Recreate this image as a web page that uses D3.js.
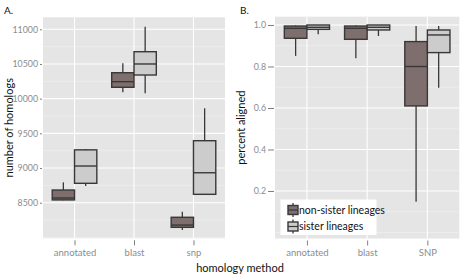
<!DOCTYPE html>
<html>
<head>
<meta charset="utf-8">
<script src="https://cdn.jsdelivr.net/npm/d3@7"></script>
<style>
  body { margin: 0; background: #fff; }
  text { font-family: Lato, "Open Sans", sans-serif; }
</style>
</head>
<body>
<section></section>
<script>
// chart data
// each box is [lower whisker, q1, median, q3, upper whisker]
const methodsA = ['annotated', 'blast', 'snp'];
const methodsB = ['annotated', 'blast', 'SNP'];
const groups = ['non-sister lineages', 'sister lineages'];

const homologsNonSister = [
  [8535, 8540, 8568, 8683, 8794],
  [10092, 10164, 10245, 10374, 10510],
  [8106, 8145, 8178, 8290, 8370]
];
const homologsSister = [
  [8741, 8780, 9029, 9262, 9274],
  [10077, 10341, 10500, 10677, 11037],
  [8612, 8621, 8932, 9394, 9861]
];
const alignedNonSister = [
  [0.851, 0.936, 0.984, 0.995, 0.998],
  [0.840, 0.931, 0.984, 0.995, 0.998],
  [0.148, 0.610, 0.800, 0.920, 0.995]
];
const alignedSister = [
  [0.955, 0.979, 0.989, 1.0, 1.0],
  [0.947, 0.976, 0.989, 1.0, 1.0],
  [0.698, 0.867, 0.952, 0.976, 0.995]
];
const ticksA = [8500, 9000, 9500, 10000, 10500, 11000];
const minorA = [8000, 8250, 8750, 9250, 9750, 10250, 10750];
const ticksB = [0.2, 0.4, 0.6, 0.8, 1.0];
const minorB = [0.0, 0.1, 0.3, 0.5, 0.7, 0.9];

const width = 469;
const height = 275;
const fills = ['#7f6e6e', '#cccccc'];
const stroke = '#383838';

const svg = d3.select('section')
  .append('svg')
  .attr('width', width)
  .attr('height', height);

// draws one boxplot panel
const drawPanel = (cfg) => {
  const x = d3.scalePoint()
    .domain(cfg.methods)
    .range([cfg.left, cfg.right])
    .padding(0.53);
  const y = d3.scaleLinear()
    .domain(cfg.yDomain)
    .range([cfg.bottom, cfg.top]);

  const g = svg.append('g');

  g.append('rect')
    .attr('x', cfg.left)
    .attr('y', cfg.top)
    .attr('width', cfg.right - cfg.left)
    .attr('height', cfg.bottom - cfg.top)
    .attr('fill', '#e5e5e5');

  // grid
  g.selectAll('.minor')
    .data(cfg.minor)
    .enter()
    .append('line')
    .attr('x1', cfg.left)
    .attr('x2', cfg.right)
    .attr('y1', (d) => y(d))
    .attr('y2', (d) => y(d))
    .attr('stroke', '#f2f2f2')
    .attr('stroke-width', 0.6);
  g.selectAll('.major')
    .data(cfg.ticks)
    .enter()
    .append('line')
    .attr('x1', cfg.left)
    .attr('x2', cfg.right)
    .attr('y1', (d) => y(d))
    .attr('y2', (d) => y(d))
    .attr('stroke', '#fff')
    .attr('stroke-width', 1.1);
  g.selectAll('.vmajor')
    .data(cfg.methods)
    .enter()
    .append('line')
    .attr('x1', (d) => x(d))
    .attr('x2', (d) => x(d))
    .attr('y1', cfg.top)
    .attr('y2', cfg.bottom)
    .attr('stroke', '#fff')
    .attr('stroke-width', 1.1);

  // axes
  const yAxis = d3.axisLeft(y)
    .tickValues(cfg.ticks)
    .tickFormat(cfg.fmt)
    .tickSize(cfg.yTick)
    .tickPadding(2);
  const ya = g.append('g')
    .attr('transform', `translate(${cfg.left - 1}, 0)`)
    .call(yAxis);
  const xAxis = d3.axisBottom(x)
    .tickSize(5)
    .tickPadding(4);
  const xa = g.append('g')
    .attr('transform', `translate(0, ${cfg.bottom + 2})`)
    .call(xAxis);
  [ya, xa].forEach((a, ai) => {
    a.select('.domain').remove();
    a.selectAll('line').attr('stroke', '#7f7f7f').attr('stroke-width', 1);
    a.selectAll('text')
      .attr('fill', '#8c8c8c')
      .style('font-size', ai === 0 ? '8.8px' : '9.5px')
      .style('font-family', 'Lato, sans-serif');
  });

  // boxes
  const bw = x.step() * 0.75 / 2;
  [cfg.series[0], cfg.series[1]].forEach((series, gi) => {
    const bg = g.append('g');
    const cx = (i) => x(cfg.methods[i]) + (gi === 0 ? -bw / 2 : bw / 2);
    const items = series.map((d, i) => ({ d, i }));
    bg.selectAll('.whisker')
      .data(items)
      .enter()
      .append('line')
      .attr('x1', (o) => cx(o.i))
      .attr('x2', (o) => cx(o.i))
      .attr('y1', (o) => y(o.d[0]))
      .attr('y2', (o) => y(o.d[4]))
      .attr('stroke', stroke)
      .attr('stroke-width', 1.3);
    bg.selectAll('.box')
      .data(items)
      .enter()
      .append('rect')
      .attr('x', (o) => cx(o.i) - bw / 2)
      .attr('width', bw)
      .attr('y', (o) => y(o.d[3]))
      .attr('height', (o) => y(o.d[1]) - y(o.d[3]))
      .attr('fill', fills[gi])
      .attr('stroke', stroke)
      .attr('stroke-width', 1.4);
    bg.selectAll('.median')
      .data(items)
      .enter()
      .append('line')
      .attr('x1', (o) => cx(o.i) - bw / 2)
      .attr('x2', (o) => cx(o.i) + bw / 2)
      .attr('y1', (o) => y(o.d[2]))
      .attr('y2', (o) => y(o.d[2]))
      .attr('stroke', stroke)
      .attr('stroke-width', 1.4);
  });

  // labels
  g.append('text')
    .attr('x', cfg.labelX)
    .attr('y', 14)
    .style('font-size', '10px')
    .attr('fill', '#111')
    .text(cfg.label);
  g.append('text')
    .attr('transform', `translate(${cfg.titleX}, ${(cfg.top + cfg.bottom) / 2}) rotate(-90)`)
    .attr('text-anchor', 'middle')
    .style('font-size', '11px')
    .attr('fill', '#111')
    .text(cfg.title);

  return { x, y, g };
};

drawPanel({
  methods: methodsA,
  series: [homologsNonSister, homologsSister],
  left: 43, right: 225, top: 17.3, bottom: 238.3,
  yDomain: [7987, 11173],
  ticks: ticksA, minor: minorA,
  fmt: d3.format('d'),
  yTick: 2,
  label: 'A.', labelX: 4,
  title: 'number of homologs', titleX: 12.5
});

const panelB = drawPanel({
  methods: methodsB,
  series: [alignedNonSister, alignedSister],
  left: 275, right: 459.3, top: 16.7, bottom: 238.5,
  yDomain: [-0.029, 1.04],
  ticks: ticksB, minor: minorB,
  fmt: d3.format('.1f'),
  yTick: 6,
  label: 'B.', labelX: 240,
  title: 'percent aligned', titleX: 245
});

// shared x title
svg.append('text')
  .attr('x', 240)
  .attr('y', 272)
  .attr('text-anchor', 'middle')
  .style('font-size', '11px')
  .attr('fill', '#111')
  .text('homology method');

// legend inside panel B
const legend = panelB.g.append('g')
  .attr('transform', 'translate(280.5, 199.5)');
legend.append('rect')
  .attr('width', 96)
  .attr('height', 35.5)
  .attr('fill', '#fff');
const keys = legend.selectAll('.key')
  .data(groups)
  .enter()
  .append('g')
  .attr('transform', (d, i) => `translate(0, ${10.5 + i * 16.5})`);
keys.append('line')
  .attr('x1', 12.5).attr('x2', 12.5)
  .attr('y1', -7).attr('y2', 7)
  .attr('stroke', stroke)
  .attr('stroke-width', 1.3);
keys.append('rect')
  .attr('x', 7.5).attr('y', -4.5)
  .attr('width', 10).attr('height', 9)
  .attr('fill', (d, i) => fills[i])
  .attr('stroke', stroke)
  .attr('stroke-width', 1.4);
keys.append('line')
  .attr('x1', 7.5).attr('x2', 17.5)
  .attr('y1', 0).attr('y2', 0)
  .attr('stroke', stroke)
  .attr('stroke-width', 1.2);
keys.append('text')
  .attr('x', 18.5)
  .attr('y', 3.5)
  .style('font-size', '10.5px')
  .attr('fill', '#111')
  .text((d) => d);
</script>
</body>
</html>
